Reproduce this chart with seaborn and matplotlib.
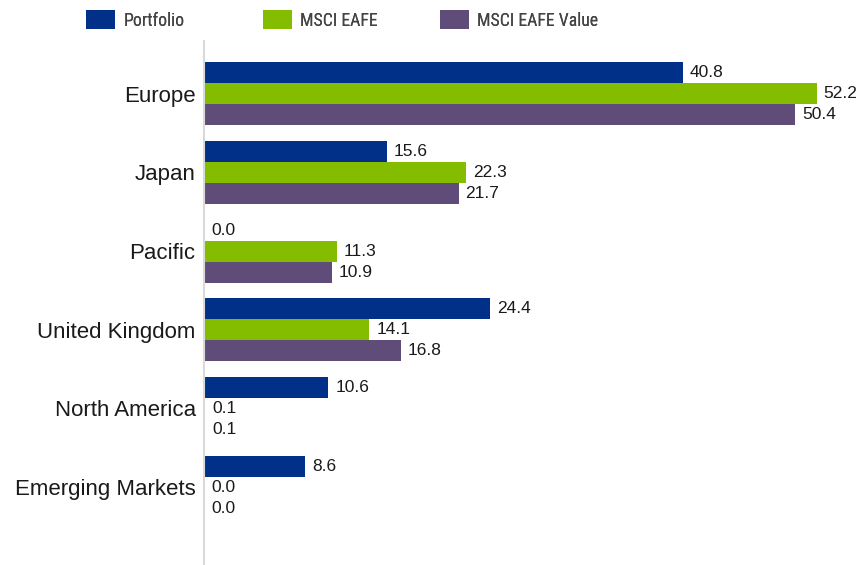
import matplotlib
matplotlib.use("Agg")
import matplotlib.pyplot as plt
import pandas as pd
import seaborn as sns
from matplotlib.patches import Patch

regions = ["Europe", "Japan", "Pacific", "United Kingdom", "North America", "Emerging Markets"]
portfolio = [40.8, 15.6, 0.0, 24.4, 10.6, 8.6]
msci_eafe = [52.2, 22.3, 11.3, 14.1, 0.1, 0.0]
msci_eafe_value = [50.4, 21.7, 10.9, 16.8, 0.1, 0.0]
series_names = ["Portfolio", "MSCI EAFE", "MSCI EAFE Value"]
colors = ["#003087", "#84BC00", "#604C78"]

df = pd.DataFrame({
    "region": regions * 3,
    "value": portfolio + msci_eafe + msci_eafe_value,
    "series": [s for s in series_names for _ in regions],
})

sns.set_theme(style="white")
plt.rcParams["font.family"] = ["Liberation Sans", "DejaVu Sans"]

fig = plt.figure(figsize=(8.6, 5.65), dpi=100)
ax = fig.add_axes([204 / 860, 0.0, 1 - 204 / 860, 1 - 41 / 565])

sns.barplot(data=df, y="region", x="value", hue="series", order=regions,
            hue_order=series_names, palette=colors, orient="h", width=0.8,
            saturation=1, linewidth=0, legend=False, ax=ax)

for cont in ax.containers:
    ax.bar_label(cont, fmt="%.1f", padding=5, fontsize=12.5, color="#1a1a1a")

ax.set_xlim(0, 55.9)
ax.set_ylim(5.99, -0.67)
ax.set_xlabel("")
ax.set_ylabel("")
ax.set_xticks([])
ax.tick_params(axis="y", length=0, pad=6, labelsize=16, labelcolor="#1a1a1a")
for side in ["top", "right", "bottom"]:
    ax.spines[side].set_visible(False)
ax.spines["left"].set_color("#d9d9d9")
ax.spines["left"].set_linewidth(1.5)

# legend: three separate entries, condensed font like the original
legend_x = [86, 263, 440]
for name, col, lx in zip(series_names, colors, legend_x):
    leg = fig.legend(handles=[Patch(facecolor=col, edgecolor="none")], labels=[name],
                     loc="center left", bbox_to_anchor=(lx / 860, 1 - 20 / 565),
                     frameon=False, borderpad=0, borderaxespad=0,
                     handlelength=1.65, handleheight=1.2, handletextpad=0.45,
                     prop={"family": ["Roboto Condensed", "Archivo Narrow", "PT Sans Narrow",
                                      "Liberation Sans"], "size": 12.8})
    for t in leg.get_texts():
        t.set_color("#444444")
    fig.add_artist(leg)

fig.savefig("out.png", dpi=100)
